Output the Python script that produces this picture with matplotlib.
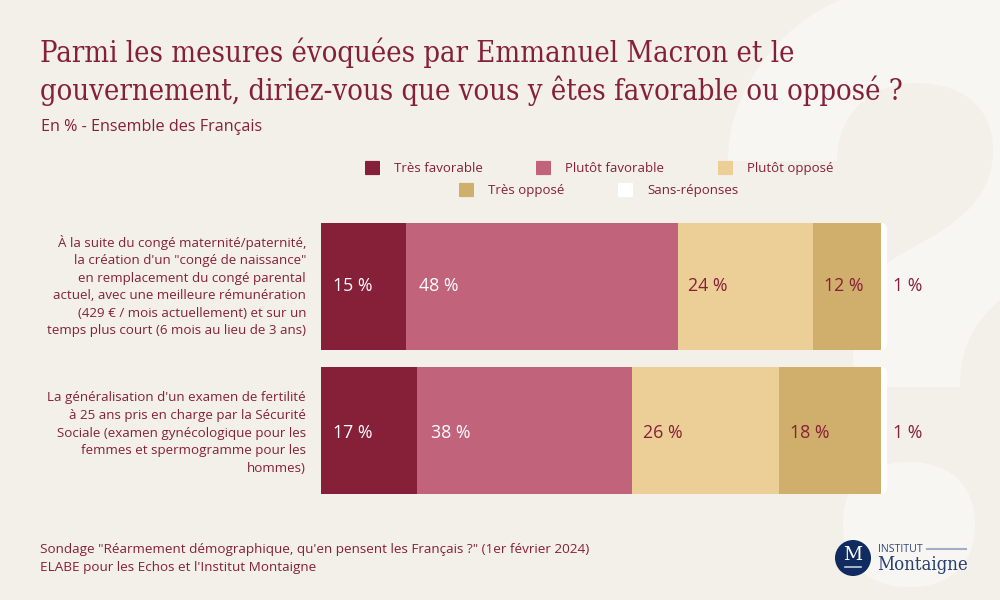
import matplotlib
matplotlib.use("Agg")
import matplotlib.pyplot as plt
from matplotlib.patches import Circle, PathPatch, FancyBboxPatch
from matplotlib.lines import Line2D
from matplotlib.path import Path
from matplotlib.transforms import IdentityTransform

title_lines = ["Parmi les mesures évoquées par Emmanuel Macron et le",
               "gouvernement, diriez-vous que vous y êtes favorable ou opposé ?"]
subtitle = "En % - Ensemble des Français"
series = ["Très favorable", "Plutôt favorable", "Plutôt opposé", "Très opposé", "Sans-réponses"]
colors = ["#862038", "#C2637C", "#ECCF97", "#D0AE6B", "#FFFFFF"]
label_colors = ["#FFFFFF", "#FFFFFF", "#862038", "#862038", "#862038"]
questions = [
    "À la suite du congé maternité/paternité,\nla création d'un \"congé de naissance\"\nen remplacement du congé parental\nactuel, avec une meilleure rémunération\n(429 € / mois actuellement) et sur un\ntemps plus court (6 mois au lieu de 3 ans)",
    "La généralisation d'un examen de fertilité\nà 25 ans pris en charge par la Sécurité\nSociale (examen gynécologique pour les\nfemmes et spermogramme pour les\nhommes)",
]
tres_favorable = [15, 17]
plutot_favorable = [48, 38]
plutot_oppose = [24, 26]
tres_oppose = [12, 18]
sans_reponse = [1, 1]
values = [tres_favorable, plutot_favorable, plutot_oppose, tres_oppose, sans_reponse]
source_lines = ["Sondage \"Réarmement démographique, qu'en pensent les Français ?\" (1er février 2024)",
                "ELABE pour les Echos et l'Institut Montaigne"]

BG = "#F3F0EA"
WM = "#F8F6F3"
RED = "#862038"
NAVY = "#0F2B5F"
SANS = "Open Sans"

W, H = 1000, 600
fig = plt.figure(figsize=(10, 6), dpi=100, facecolor=BG)

def fx(x): return x / W
def fy(y): return 1 - y / H

# watermark question mark, drawn as a decorative outline in pixel coordinates
bg = fig.add_axes([0, 0, 1, 1], zorder=0)
bg.set_xlim(0, W); bg.set_ylim(H, 0); bg.axis("off")
M, L, C, Z = Path.MOVETO, Path.LINETO, Path.CURVE4, Path.CLOSEPOLY
hook = [
    ((728, 161), M),
    ((728, 90), C), ((780, 25), C), ((840, 0), C),
    ((860, -10), L), ((1040, -10), L), ((1040, 265), L),
    ((1000, 300), L),
    ((975, 322), C), ((960, 345), C), ((960, 387), C),
    ((855, 387), L),
    ((848, 340), C), ((860, 285), C), ((887, 263), C),
    ((930, 235), C), ((993, 215), C), ((993, 150), C),
    ((993, 105), C), ((960, 83), C), ((915, 83), C),
    ((870, 83), C), ((837, 115), C), ((837, 161), C),
    ((728, 161), L),
    ((728, 161), Z),
]
dot = [
    ((843, 525), M),
    ((843, 480), C), ((870, 462), C), ((909, 462), C),
    ((950, 462), C), ((975, 485), C), ((975, 525), C),
    ((975, 565), C), ((950, 587), C), ((909, 587), C),
    ((870, 587), C), ((843, 565), C), ((843, 525), C),
    ((843, 525), Z),
]
for shape in (hook, dot):
    bg.add_patch(PathPatch(Path([p for p, _ in shape], [c for _, c in shape]), fc=WM, ec="none"))

# title
fig.text(fx(40), fy(52.5), title_lines[0], family="DejaVu Serif", stretch="condensed", fontsize=20.85, color=RED, va="center")
fig.text(fx(40), fy(90.5), title_lines[1], family="DejaVu Serif", stretch="condensed", fontsize=20.85, color=RED, va="center")
fig.text(fx(41), fy(127), subtitle, family=SANS, fontsize=11.6, color=RED, va="center")

# legend
leg = [(365, 168), (536, 168), (718, 168), (459, 190), (618, 190)]
for (x, y), s, c in zip(leg, series, colors):
    fig.add_artist(FancyBboxPatch((fx(x + 1), fy(y + 6.5)), 13 / W, 13 / H, boxstyle="round,pad=0.001,rounding_size=0.001",
                                  transform=fig.transFigure, fc=c, ec="none"))
    fig.text(fx(x + 29), fy(y + 0.5), s, family=SANS, fontsize=9.5, color=RED, va="center")

# bars
ax = fig.add_axes([fx(321), fy(502.5), 566 / W, (502.5 - 214.5) / H], zorder=2)
ax.set_xlim(0, 100)
ax.set_ylim(1.5, -0.5)
ax.patch.set_alpha(0)
for s in ax.spines.values():
    s.set_visible(False)
ax.tick_params(left=False, bottom=False, labelbottom=False, labelleft=False)
PX = 100 / 566
ROW_SHIFT = [-0.5, 2.5]
LABEL_PAD = [12, 13.5, 10.5, 11, 6]
ypos = list(range(len(questions)))
left = [0] * len(questions)
trans = ax.transData
for vals, c, lc, pad in zip(values, colors, label_colors, LABEL_PAD):
    bars = ax.barh(ypos, vals, left=left, height=127 / 144, color=c, edgecolor="none")
    for i, v in enumerate(vals):
        x = left[i] + (v + pad * PX if v <= 1 else pad * PX)
        ax.text(x, i + ROW_SHIFT[i] / 144, f"{v} %", ha="left", va="center", family=SANS, fontsize=12.8, color=lc)
    if c == "#FFFFFF":
        for b in bars:
            (x0, y0), (x1, y1) = trans.transform([(b.get_x(), b.get_y()), (b.get_x() + b.get_width(), b.get_y() + b.get_height())])
            y0, y1 = min(y0, y1), max(y0, y1)
            clip = FancyBboxPatch((x0 - 12, y0), x1 - x0 + 12, y1 - y0, boxstyle="round,pad=0,rounding_size=6", transform=IdentityTransform())
            b.set_clip_path(clip)
    left = [l + v for l, v in zip(left, vals)]

# category labels
for i, q in enumerate(questions):
    ax.annotate(q, (0, i + ROW_SHIFT[i] / 144), xytext=(-15, 0), textcoords="offset pixels", ha="right", va="center",
                family=SANS, fontsize=9.6, color=RED, linespacing=1.45, annotation_clip=False, multialignment="right")

# source
fig.text(fx(40), fy(549.5), source_lines[0], family=SANS, fontsize=9.7, color=RED, va="center")
fig.text(fx(40), fy(567), source_lines[1], family=SANS, fontsize=9.7, color=RED, va="center")

# logo
bg.add_patch(Circle((853, 558), 18, fc=NAVY, ec="none"))
bg.text(853, 555.5, "M", family="DejaVu Serif", fontsize=13.5, color="white", ha="center", va="center")
bg.add_line(Line2D([845, 861], [566.5, 566.5], color="#C5CCDA", lw=1.2))
bg.text(878, 549, "INSTITUT", family=SANS, fontsize=7.6, color="#33487A", va="center")
bg.add_line(Line2D([927, 966], [548.5, 548.5], color="#A3AEC6", lw=1.5))
bg.text(877, 564.5, "Montaigne", family="DejaVu Serif", stretch="condensed", fontsize=13.3, color="#263F70", va="center")

fig.savefig("out.png", dpi=100, facecolor=BG)
